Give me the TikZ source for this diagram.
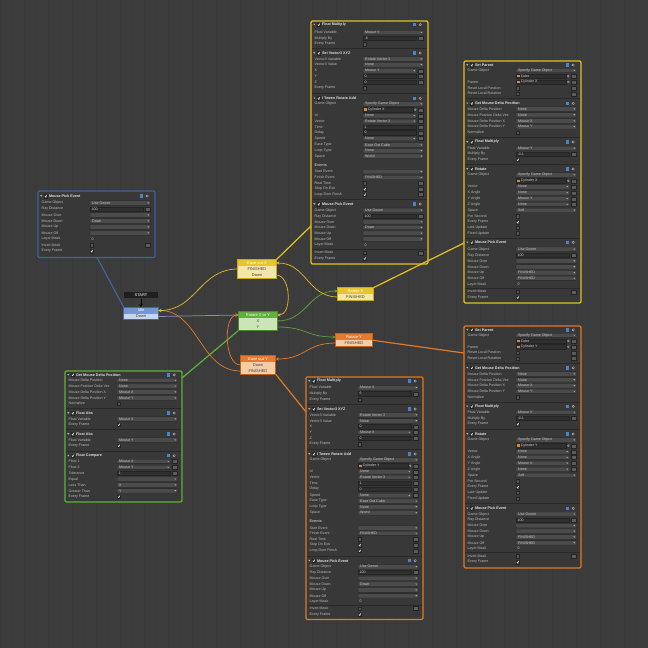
\documentclass[tikz,border=0pt]{standalone}
\usepackage{fontspec}
\setmainfont{Liberation Sans}
\usetikzlibrary{arrows.meta}
\definecolor{canvas}{HTML}{3C3C3C}
\definecolor{gridc}{HTML}{393939}
\definecolor{panelbg}{HTML}{383838}
\definecolor{lblc}{HTML}{BDBDBD}
\definecolor{valc}{HTML}{C8C8C8}
\definecolor{popc}{HTML}{4B4B4B}
\definecolor{fldc}{HTML}{2F2F2F}
\definecolor{edgec}{HTML}{242424}
\definecolor{btnc}{HTML}{5C5C5C}
\definecolor{sepc}{HTML}{2A2A2A}
\definecolor{ddc}{HTML}{A8A8A8}
\definecolor{ckc}{HTML}{555555}
\definecolor{helpc}{HTML}{4C82CC}
\definecolor{gearc}{HTML}{B0B0B0}
\definecolor{objc}{HTML}{D08A3A}
\definecolor{yT}{HTML}{E6C62A}\definecolor{yE}{HTML}{F2E7A6}\definecolor{yB}{HTML}{C9A91A}\definecolor{ylwl}{HTML}{D4B52C}
\definecolor{gT}{HTML}{63AE3E}\definecolor{gE}{HTML}{CBE5B8}\definecolor{gB}{HTML}{458C2A}\definecolor{grnl}{HTML}{5C9E3C}
\definecolor{oT}{HTML}{E77A2C}\definecolor{oE}{HTML}{F5CCA6}\definecolor{oB}{HTML}{C0621C}\definecolor{orl}{HTML}{D9772C}
\definecolor{bT}{HTML}{7598D4}\definecolor{bE}{HTML}{C7D5EE}\definecolor{bB}{HTML}{45659E}\definecolor{idl}{HTML}{7F92B0}
\definecolor{pY}{HTML}{E2C21E}\definecolor{pO}{HTML}{E07A22}\definecolor{pG}{HTML}{5FB13A}\definecolor{pB}{HTML}{41639C}
\newcommand\pfont{\fontsize{3.6}{4}\selectfont}
\newcommand\tfont{\bfseries\fontsize{3.7}{4}\selectfont}
\newcommand\sfont{\fontsize{4}{4.5}\selectfont}
\tikzset{
 lbl/.style={anchor=west, inner sep=0, text=lblc, font=\pfont},
 val/.style={anchor=west, inner sep=0, text=valc, font=\pfont},
 ttl/.style={anchor=west, inner sep=0, text=white!88!black, font=\tfont},
 popf/.style={fill=popc, draw=edgec, line width=0.3pt, rounded corners=0.6pt},
 fldf/.style={fill=fldc, draw=edgec, line width=0.3pt},
 btnf/.style={fill=btnc, draw=edgec, line width=0.3pt},
 ckf/.style={fill=ckc, draw=edgec, line width=0.3pt},
 ckm/.style={draw=white!90!black, line width=0.45pt},
 sepl/.style={draw=sepc, line width=0.5pt},
 pnl/.style={fill=panelbg, line width=1.3pt, rounded corners=1.2pt},
 lnk/.style={line width=1.2pt},
 stt/.style={minimum height=6pt, inner sep=0, font=\sfont, text=white},
 ste/.style={minimum height=6pt, inner sep=0, font=\sfont, text=black!75},
 sbd/.style={line width=0.8pt},
 trn/.style={line width=0.75pt, -{Stealth[length=3.4pt,width=3.4pt]}}
}
\newcommand\Lb[2]{\node[lbl] at (3.5,#1) {#2};}
\newcommand\Bt[1]{\path[btnf] (107,#1-2) rectangle (112.5,#1+2);}
\newcommand\Dd[2]{\fill[ddc] (#1-0.9,#2-0.6) -- (#1+0.9,#2-0.6) -- (#1,#2+0.7) -- cycle;}
\newcommand\Pop[3]{\Lb{#1}{#2}\path[popf] (52,#1-2.2) rectangle (112.5,#1+2.2);\node[val] at (54,#1) {#3};\Dd{110.3}{#1}}
\newcommand\PopB[3]{\Lb{#1}{#2}\path[popf] (52,#1-2.2) rectangle (105.5,#1+2.2);\node[val] at (54,#1) {#3};\Dd{103.2}{#1}\Bt{#1}}
\newcommand\Fld[3]{\Lb{#1}{#2}\path[fldf] (52,#1-2.2) rectangle (105.5,#1+2.2);\node[val] at (53.5,#1) {#3};\Bt{#1}}
\newcommand\Chk[3]{\Lb{#1}{#2}\path[ckf] (52,#1-1.7) rectangle (55.4,#1+1.7);\ifnum#3=1 \draw[ckm] (52.7,#1) -- (53.6,#1+1) -- (55,#1-1.3);\fi}
\newcommand\ChkB[3]{\Chk{#1}{#2}{#3}\Bt{#1}}
\newcommand\Obj[2]{\path[fldf] (52,#1-2.2) rectangle (102,#1+2.2);\fill[objc] (53.2,#1-1.3) rectangle (55.8,#1+1.3);\node[val] at (56.6,#1) {#2};\draw[ddc,line width=0.3pt] (104.3,#1) circle (1);\fill[ddc] (104.3,#1) circle (0.4);\Bt{#1}}
\newcommand\ObjL[3]{\Lb{#1}{#2}\Obj{#1}{#3}}
\newcommand\Plain[3]{\Lb{#1}{#2}\node[val] at (53.5,#1) {#3};}
\newcommand\Sep[1]{\draw[sepl] (0.8,#1) -- (116.2,#1);}
\newcommand\Sub[2]{\node[lbl,font=\tfont] at (3.5,#1) {#2};}
\newcommand\TtlN[2]{\fill[ddc] (2.2,#1-0.8) -- (4.4,#1-0.8) -- (3.3,#1+0.8) -- cycle;\path[ckf] (6,#1-1.7) rectangle (9.4,#1+1.7);\draw[ckm] (6.7,#1) -- (7.6,#1+1) -- (9,#1-1.3);\node[ttl] at (10.8,#1) {#2};\fill[helpc] (102,#1-1.7) rectangle (105.2,#1+1.7);\fill[gearc] (109.2,#1) circle (1.5);\fill[panelbg] (109.2,#1) circle (0.6);}
\newcommand\Ttl[2]{\Sep{#1-4.6}\TtlN{#1}{#2}}
\newcommand\Panel[4]{\draw[pnl, draw=#4] (#1,#2) rectangle (#1+117,#3);}
\begin{document}
\begin{tikzpicture}[x=1pt,y=-1pt]
\useasboundingbox (0,0) rectangle (648,648);
\fill[canvas] (0,0) rectangle (648,648);
\draw[gridc, line width=0.4pt] (0,0) grid[step=12] (648,648);

% ---------- panels ----------
\Panel{311}{21}{264}{pY}
\begin{scope}[shift={(311,0)}]
\TtlN{24.6}{Float Multiply}
\Pop{32.5}{Float Variable}{Mouse Y}
\Fld{38.3}{Multiply By}{-6}
\Chk{44}{Every Frame}{0}
\Ttl{53}{Set Vector3 XYZ}
\Pop{59}{Vector3 Variable}{Rotate Vector 3}
\Pop{64.7}{Vector3 Value}{None}
\PopB{70.7}{X}{Mouse Y}
\Fld{76.3}{Y}{0}
\Fld{82}{Z}{0}
\Chk{88}{Every Frame}{0}
\Ttl{98.3}{I Tween Rotate Add}
\Pop{104}{Game Object}{Specify Game Object}
\Obj{109.7}{Cylinder X}
\PopB{115.7}{Id}{None}
\PopB{121.3}{Vector}{Rotate Vector 3}
\Fld{127}{Time}{1}
\Fld{132.7}{Delay}{0}
\PopB{138.6}{Speed}{None}
\Pop{145}{Ease Type}{Ease Out Cubic}
\Pop{150.7}{Loop Type}{None}
\Pop{156.2}{Space}{World}
\Sub{165}{Events}
\Pop{171.6}{Start Event}{}
\Pop{177.5}{Finish Event}{FINISHED}
\ChkB{183.3}{Real Time}{0}
\ChkB{189}{Stop On Exit}{1}
\ChkB{194.6}{Loop Dont Finish}{1}
\Ttl{204}{Mouse Pick Event}
\Pop{210.3}{Game Object}{Use Owner}
\Fld{216.3}{Ray Distance}{100}
\Pop{221.9}{Mouse Over}{}
\Pop{227.5}{Mouse Down}{Down}
\Pop{233.2}{Mouse Up}{}
\Pop{239}{Mouse Off}{}
\Plain{245}{Layer Mask}{0}
\Sep{249}
\ChkB{252.7}{Invert Mask}{0}
\Chk{258.4}{Every Frame}{1}
\end{scope}

\Panel{464}{61}{303}{pY}
\begin{scope}[shift={(464,0)}]
\TtlN{65}{Set Parent}
\Pop{70.5}{Game Object}{Specify Game Object}
\Obj{76.1}{Cube}
\ObjL{82}{Parent}{Cylinder X}
\ChkB{88}{Reset Local Position}{0}
\ChkB{93.7}{Reset Local Rotation}{0}
\Ttl{103.3}{Get Mouse Delta Position}
\Pop{109}{Mouse Delta Position}{None}
\Pop{114.8}{Mouse Position Delta Vec}{None}
\Pop{121}{Mouse Delta Position X}{Mouse X}
\Pop{126.7}{Mouse Delta Position Y}{Mouse Y}
\Chk{132.4}{Normalize}{0}
\Ttl{142}{Float Multiply}
\Pop{148.3}{Float Variable}{Mouse Y}
\Fld{154}{Multiply By}{-0.1}
\Chk{159.7}{Every Frame}{1}
\Ttl{169}{Rotate}
\Pop{175}{Game Object}{Specify Game Object}
\Obj{180.8}{Cylinder X}
\PopB{186.7}{Vector}{None}
\PopB{192.7}{X Angle}{None}
\PopB{198.7}{Y Angle}{Mouse Y}
\PopB{204.4}{Z Angle}{None}
\Pop{210.3}{Space}{Self}
\Chk{216}{Per Second}{0}
\Chk{222}{Every Frame}{1}
\Chk{227.7}{Late Update}{0}
\Chk{233.3}{Fixed Update}{0}
\Ttl{242.4}{Mouse Pick Event}
\Pop{249.2}{Game Object}{Use Owner}
\Fld{255.1}{Ray Distance}{100}
\Pop{261}{Mouse Over}{}
\Pop{266.8}{Mouse Down}{}
\Pop{272.7}{Mouse Up}{FINISHED}
\Pop{278.4}{Mouse Off}{FINISHED}
\Plain{284.3}{Layer Mask}{0}
\Sep{288.2}
\ChkB{291.7}{Invert Mask}{0}
\Chk{297.4}{Every Frame}{1}
\end{scope}

\Panel{464}{326}{568}{pO}
\begin{scope}[shift={(464,0)}]
\TtlN{329.8}{Set Parent}
\Pop{335.4}{Game Object}{Specify Game Object}
\Obj{341}{Cube}
\ObjL{346.8}{Parent}{Cylinder Y}
\ChkB{352.7}{Reset Local Position}{0}
\ChkB{358.4}{Reset Local Rotation}{0}
\Ttl{367.8}{Get Mouse Delta Position}
\Pop{374}{Mouse Delta Position}{None}
\Pop{379.8}{Mouse Position Delta Vec}{None}
\Pop{385.7}{Mouse Delta Position X}{Mouse X}
\Pop{391.4}{Mouse Delta Position Y}{Mouse Y}
\Chk{397}{Normalize}{0}
\Ttl{406.4}{Float Multiply}
\Pop{412.4}{Float Variable}{Mouse X}
\Fld{418.3}{Multiply By}{-0.1}
\Chk{424}{Every Frame}{1}
\Ttl{434}{Rotate}
\Pop{440}{Game Object}{Specify Game Object}
\Obj{445.7}{Cylinder Y}
\PopB{451.7}{Vector}{None}
\PopB{457.4}{X Angle}{None}
\PopB{463.3}{Y Angle}{Mouse X}
\PopB{469.3}{Z Angle}{None}
\Pop{475.3}{Space}{Self}
\Chk{481.3}{Per Second}{0}
\Chk{487}{Every Frame}{1}
\Chk{492.8}{Late Update}{0}
\Chk{498.7}{Fixed Update}{0}
\Ttl{508.3}{Mouse Pick Event}
\Pop{514.1}{Game Object}{Use Owner}
\Fld{520}{Ray Distance}{100}
\Pop{525.6}{Mouse Over}{}
\Pop{531.2}{Mouse Down}{}
\Pop{537}{Mouse Up}{FINISHED}
\Pop{542.8}{Mouse Off}{FINISHED}
\Plain{548.7}{Layer Mask}{0}
\Sep{552.5}
\ChkB{556}{Invert Mask}{0}
\Chk{562}{Every Frame}{1}
\end{scope}

\Panel{306}{377}{619.5}{pO}
\begin{scope}[shift={(306,0)}]
\TtlN{381}{Float Multiply}
\Pop{387.7}{Float Variable}{Mouse X}
\Fld{393.7}{Multiply By}{6}
\Chk{399.4}{Every Frame}{0}
\Ttl{409}{Set Vector3 XYZ}
\Pop{415}{Vector3 Variable}{Rotate Vector 3}
\Pop{420.8}{Vector3 Value}{None}
\Fld{426.7}{X}{0}
\PopB{432.4}{Y}{Mouse X}
\Fld{438.3}{Z}{0}
\Chk{444}{Every Frame}{0}
\Ttl{454}{I Tween Rotate Add}
\Pop{460}{Game Object}{Specify Game Object}
\Obj{465.8}{Cylinder Y}
\PopB{471.7}{Id}{None}
\PopB{477.4}{Vector}{Rotate Vector 3}
\Fld{483.1}{Time}{1}
\Fld{489}{Delay}{0}
\PopB{495.6}{Speed}{None}
\Pop{501.1}{Ease Type}{Ease Out Cubic}
\Pop{506.8}{Loop Type}{None}
\Pop{512.7}{Space}{World}
\Sub{521.3}{Events}
\Pop{528}{Start Event}{}
\Pop{533.4}{Finish Event}{FINISHED}
\ChkB{539}{Real Time}{0}
\ChkB{545}{Stop On Exit}{1}
\ChkB{550.7}{Loop Dont Finish}{1}
\Ttl{560.7}{Mouse Pick Event}
\Pop{566.7}{Game Object}{Use Owner}
\Fld{572.4}{Ray Distance}{100}
\Pop{578.3}{Mouse Over}{}
\Pop{584.1}{Mouse Down}{Down}
\Pop{590}{Mouse Up}{}
\Pop{595.8}{Mouse Off}{}
\Plain{601.7}{Layer Mask}{0}
\Sep{605.3}
\ChkB{608.6}{Invert Mask}{0}
\Chk{614.4}{Every Frame}{1}
\end{scope}

\Panel{65}{371}{502}{pG}
\begin{scope}[shift={(65,0)}]
\TtlN{374.8}{Get Mouse Delta Position}
\Pop{380.4}{Mouse Delta Position}{None}
\Pop{386.1}{Mouse Position Delta Vec}{None}
\Pop{392}{Mouse Delta Position X}{Mouse X}
\Pop{398}{Mouse Delta Position Y}{Mouse Y}
\Chk{403.7}{Normalize}{0}
\Ttl{413}{Float Abs}
\Pop{419}{Float Variable}{Mouse X}
\Chk{424.7}{Every Frame}{1}
\Ttl{434}{Float Abs}
\Pop{440}{Float Variable}{Mouse Y}
\Chk{445.7}{Every Frame}{1}
\Ttl{455.7}{Float Compare}
\PopB{461.4}{Float 1}{Mouse X}
\PopB{467.4}{Float 2}{Mouse Y}
\Fld{473.4}{Tolerance}{1}
\Pop{479.1}{Equal}{}
\Pop{485}{Less Than}{X}
\Pop{490.8}{Greater Than}{Y}
\Chk{496.7}{Every Frame}{1}
\end{scope}

\Panel{38}{191}{257.5}{pB}
\begin{scope}[shift={(38,0)}]
\TtlN{196}{Mouse Pick Event}
\Pop{203}{Game Object}{Use Owner}
\Fld{209}{Ray Distance}{100}
\Pop{215}{Mouse Over}{}
\Pop{221}{Mouse Down}{Down}
\Pop{227}{Mouse Up}{}
\Pop{233}{Mouse Off}{}
\Plain{239}{Layer Mask}{0}
\ChkB{245}{Invert Mask}{0}
\Chk{251}{Every Frame}{1}
\end{scope}

% ---------- link end points on panels ----------
\coordinate (pBlue) at (97,257.5);
\coordinate (pTopY) at (311,226);
\coordinate (pRightY) at (464,243);
\coordinate (pRightO) at (464,353);
\coordinate (pMidO) at (306,412);
\coordinate (pGreen) at (182,378);

% ---------- states ----------
\node[stt, fill=black!88, minimum width=34pt, minimum height=6.5pt] (start) at (141,295.2) {START};

\node[stt, fill=bT, minimum width=34pt] (idleT) at (141,310.5) {Idle};
\node[ste, fill=bE, minimum width=34pt] (idleD) at (141,316.5) {Down};

\node[stt, fill=yT, minimum width=38pt] (eoxT) at (257,263) {Ease out X};
\node[ste, fill=yE, minimum width=38pt] (eoxF) at (257,269) {FINISHED};
\node[ste, fill=yE, minimum width=38pt] (eoxD) at (257,275) {Down};

\node[stt, fill=gT, minimum width=38pt] (rxyT) at (258,315) {Rotate X or Y};
\node[ste, fill=gE, minimum width=38pt] (rxyX) at (258,321) {X};
\node[ste, fill=gE, minimum width=38pt] (rxyY) at (258,327) {Y};

\node[stt, fill=oT, minimum width=35pt] (eoyT) at (258,359) {Ease out Y};
\node[ste, fill=oE, minimum width=35pt] (eoyD) at (258,365) {Down};
\node[ste, fill=oE, minimum width=35pt] (eoyF) at (258,371) {FINISHED};

\node[stt, fill=yT, minimum width=35pt] (rxT) at (355.5,291) {Rotate X};
\node[ste, fill=yE, minimum width=35pt] (rxF) at (355.5,297) {FINISHED};

\node[stt, fill=oT, minimum width=36pt] (ryT) at (354,337) {Rotate Y};
\node[ste, fill=oE, minimum width=36pt] (ryF) at (354,343) {FINISHED};

% ---------- panel links ----------
\draw[lnk, pB] (pBlue) -- (idleT.north west);
\draw[lnk, pY] (eoxT.north east) -- (pTopY);
\draw[lnk, pY] (rxT.north east) -- (pRightY);
\draw[lnk, pO] (ryT.south east) -- (pRightO);
\draw[lnk, pO] (eoyF.south east) -- (pMidO);
\draw[lnk, pG] (rxyY.south west) -- (pGreen);

% ---------- state borders ----------
\draw[sbd, draw=bB] (idleT.north west) rectangle (idleD.south east);
\draw[sbd, draw=yB] (eoxT.north west) rectangle (eoxD.south east);
\draw[sbd, draw=gB] (rxyT.north west) rectangle (rxyY.south east);
\draw[sbd, draw=oB] (eoyT.north west) rectangle (eoyF.south east);
\draw[sbd, draw=yB] (rxT.north west) rectangle (rxF.south east);
\draw[sbd, draw=oB] (ryT.north west) rectangle (ryF.south east);

% ---------- transitions ----------
\draw[trn, black] (start.south) -- (idleT.north);
\draw[trn, idl] (idleD.east) -- (rxyT.west);
\draw[trn, orl] (eoyD.west) .. controls +(-16,0) and +(-16,0) .. (rxyT.west);
\draw[trn, ylwl] (eoxD.east) .. controls +(15,0) and +(15,0) .. (rxyT.east);
\draw[trn, orl] (eoyF.west) .. controls +(-40,0) and +(40,0) .. (idleT.east);
\draw[trn, ylwl] (eoxF.west) .. controls +(-38,0) and +(38,0) .. (idleT.east);
\draw[trn, grnl] (rxyX.east) .. controls +(30,0) and +(-30,0) .. (rxT.west);
\draw[trn, grnl] (rxyY.east) .. controls +(30,0) and +(-30,0) .. (ryT.west);
\draw[trn, ylwl] (rxF.west) .. controls +(-30,0) and +(30,0) .. (eoxT.east);
\draw[trn, orl] (ryF.west) .. controls +(-30,0) and +(30,0) .. (eoyT.east);
\end{tikzpicture}
\end{document}
